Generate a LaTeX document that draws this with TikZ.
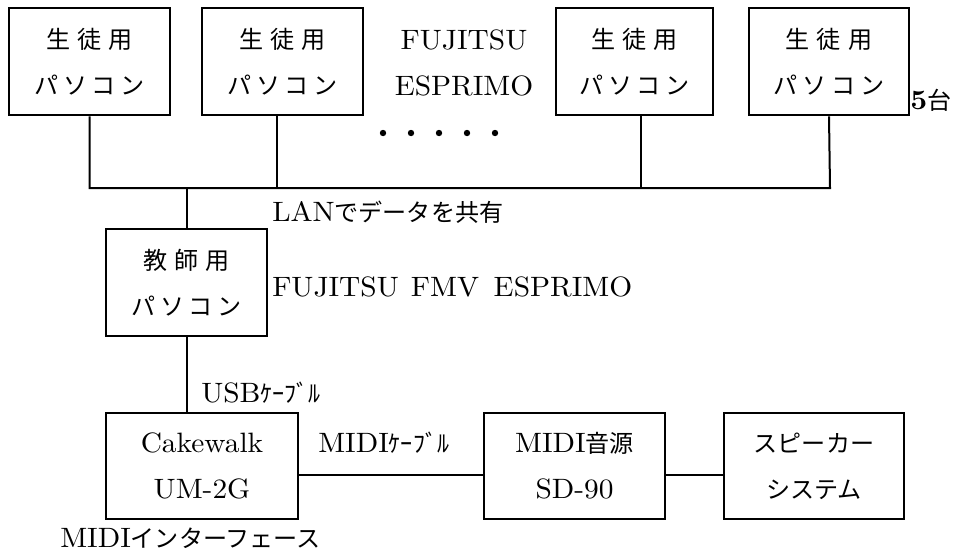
\documentclass[tikz,border=0pt]{standalone}
\usepackage{fontspec}
\setmainfont{lmroman10-regular}[Extension=.otf, BoldFont=lmroman10-bold, FakeStretch=1.05]
\newfontfamily\jp{Noto Sans CJK JP}[Scale=0.86]
\newcommand\jsa{\hspace{5.5pt}}
\newcommand\jsb{\hspace{3.5pt}}
\begin{document}
\begin{tikzpicture}[x=0.75pt,y=-0.75pt,
  box/.style={draw, line width=2pt, inner sep=0pt, align=center,
    minimum height=80.25pt, font=\fontsize{21}{34.5}\selectfont},
  wire/.style={line width=1.5pt},
  lbl/.style={inner sep=0pt, anchor=west, font=\fontsize{21}{24}\selectfont}]
\useasboundingbox (0,0) rectangle (962,551);
% student PCs
\node[box, minimum width=120.75pt] (s1) at (89.5,61.5) {{\jp 生\jsa 徒\jsa 用}\\{\jp パ\jsb ソ\jsb コ\jsb ン}};
\node[box, minimum width=120.75pt] (s2) at (282.5,61.5) {{\jp 生\jsa 徒\jsa 用}\\{\jp パ\jsb ソ\jsb コ\jsb ン}};
\node[box, minimum width=117.75pt] (s3) at (634.5,61.5) {{\jp 生\jsa 徒\jsa 用}\\{\jp パ\jsb ソ\jsb コ\jsb ン}};
\node[box, minimum width=120pt] (s4) at (829,61.5) {{\jp 生\jsa 徒\jsa 用}\\{\jp パ\jsb ソ\jsb コ\jsb ン}};
\node[inner sep=0pt, font=\fontsize{21}{35}\selectfont, align=center] (fj) at (464,63) {FUJITSU\\ESPRIMO};
\foreach \i in {0,...,4} \fill (383+\i*28,133) circle (3.2);
\node[lbl] (five) at (910,100) {\textbf{5}{\jp 台}};
% bus
\coordinate (busL) at (87,188);
\coordinate (busR) at (830,188);
\draw[wire] (s1.south) -- (s1.south |- busL) -- (busR) -- (s4.south);
\draw[wire] ([xshift=-4pt]s2.south) -- ([xshift=-4pt]s2.south |- busL);
\draw[wire] ([xshift=5pt]s3.south) -- ([xshift=5pt]s3.south |- busL);
% teacher PC
\node[box, minimum width=120.75pt] (t) at (186.5,282.5) {{\jp 教\jsa 師\jsa 用}\\{\jp パ\jsb ソ\jsb コ\jsb ン}};
\draw[wire] (t.north |- busL) -- (t.north);
\node[lbl] (lan) at (272,212) {LAN{\jp でデータを共有}};
\node[lbl] (fmv) at (272,287) {FUJITSU\hspace{9pt}FMV\hspace{11pt}ESPRIMO};
% bottom row
\node[box, minimum width=144pt, minimum height=79.5pt] (c) at (202,466) {Cakewalk\\UM-2G};
\node[box, minimum width=135.75pt, minimum height=79.5pt] (m) at (574.5,466) {MIDI{\jp 音源}\\SD-90};
\node[box, minimum width=135pt, minimum height=79.5pt] (sp) at (814,466) {{\jp スピーカー}\\{\jp システム}};
\draw[wire] (t.south) -- (t.south |- c.north);
\node[lbl] (usb) at (201,393) {USB{\jp ｹｰﾌﾞﾙ}};
\coordinate (lowline) at (0,475);
\draw[wire, line width=1.2pt] (c.east |- lowline) -- (m.west |- lowline);
\draw[wire, line width=1.2pt] (m.east |- lowline) -- (sp.west |- lowline);
\node[lbl] (midic) at (318,443) {MIDI{\jp ｹｰﾌﾞﾙ}};
\node[lbl] (midii) at (60,538) {MIDI{\jp インターフェース}};
\end{tikzpicture}
\end{document}
